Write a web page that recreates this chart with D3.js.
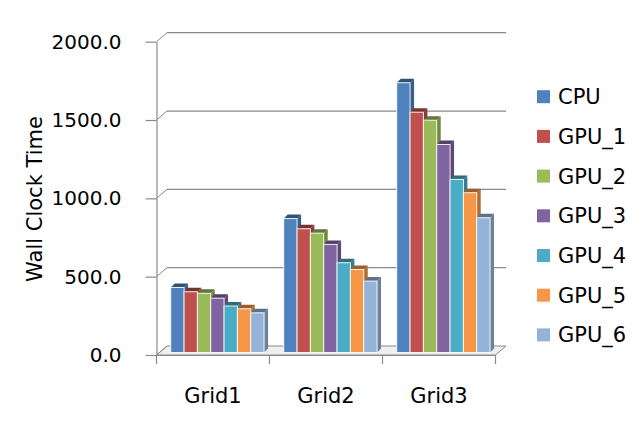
<!DOCTYPE html>
<html>
<head>
<meta charset="utf-8">
<script src="https://cdn.jsdelivr.net/npm/d3@7"></script>
<style>
  html, body { margin: 0; padding: 0; background: #ffffff; }
  svg { display: block; }
  text { font-family: "DejaVu Sans", sans-serif; fill: #000; }
</style>
</head>
<body>
<svg id="chart" width="642" height="428"></svg>
<script>
// ---- data ----
const categories = ["Grid1", "Grid2", "Grid3"];
const seriesNames = ["CPU", "GPU_1", "GPU_2", "GPU_3", "GPU_4", "GPU_5", "GPU_6"];
const cpu   = [415, 855, 1722];
const gpu_1 = [388, 790, 1534];
const gpu_2 = [378, 762, 1483];
const gpu_3 = [347, 690, 1328];
const gpu_4 = [297, 573, 1105];
const gpu_5 = [279, 530, 1020];
const gpu_6 = [253, 456, 860];
const seriesValues = [cpu, gpu_1, gpu_2, gpu_3, gpu_4, gpu_5, gpu_6];
const colors = ["#4F81BD", "#C0504D", "#9BBB59", "#8064A2", "#4BACC6", "#F79646", "#95B3D7"];
const yTicks = [0, 500, 1000, 1500, 2000];
const yTitle = "Wall Clock Time";

(function () {
// ---- layout ----
const svg = d3.select("#chart");
const plotLeft = 156.5, plotRight = 495.5, plotBottom = 355, plotTop = 41.7;
const wallDx = 10.5, wallDy = -9;       // depth of the 3D box
const barDx = 4.4, barDy = -2.5;        // offset of bar front plane
const depthDx = 4, depthDy = -4;        // bar depth
const gridColor = "#8a8a8a";

const y = d3.scaleLinear().domain([0, 2000]).range([plotBottom, plotTop]);
const x0 = d3.scaleBand().domain(categories).range([plotLeft, plotRight]).padding(0);
const outerPad = 9.83;
const x1 = d3.scaleBand().domain(seriesNames)
  .range([outerPad, x0.bandwidth() - outerPad]).padding(0);

// floor
const floor = [[plotLeft, plotBottom], [plotRight, plotBottom], [plotRight + wallDx, plotBottom + wallDy], [plotLeft + wallDx, plotBottom + wallDy]];
svg.append("polygon")
  .attr("points", floor.map(p => p.join(",")).join(" "))
  .attr("fill", "#efefef").attr("stroke", gridColor).attr("stroke-width", 1);

// back wall gridlines and left wall diagonals
yTicks.forEach(t => {
  if (t > 0) {
    svg.append("line")
      .attr("x1", plotLeft + wallDx).attr("x2", plotRight + wallDx)
      .attr("y1", y(t) + wallDy).attr("y2", y(t) + wallDy)
      .attr("stroke", gridColor).attr("stroke-width", 1.3);
  }
  svg.append("line")
    .attr("x1", plotLeft).attr("y1", y(t))
    .attr("x2", plotLeft + wallDx).attr("y2", y(t) + wallDy)
    .attr("stroke", gridColor).attr("stroke-width", 1);
});

// y axis
const yAxis = d3.axisLeft(y).tickValues(yTicks).tickFormat(d3.format(".1f"))
  .tickSize(11).tickSizeOuter(0).tickPadding(24);
const gy = svg.append("g").attr("transform", `translate(${plotLeft},0)`).call(yAxis);
gy.selectAll("path, line").attr("stroke", gridColor).attr("stroke-width", 1.2);
gy.selectAll("text").style("font-size", "20px").style("font-family", "DejaVu Sans, sans-serif").attr("fill", "#000");

// x axis
const xAxis = d3.axisBottom(x0).tickSize(0).tickSizeOuter(0).tickPadding(33);
const gx = svg.append("g").attr("transform", `translate(0,${plotBottom})`).call(xAxis);
gx.selectAll("path").attr("stroke", gridColor).attr("stroke-width", 1.2);
gx.selectAll("text").style("font-size", "21px").style("font-family", "DejaVu Sans, sans-serif").attr("fill", "#000");
// boundary ticks
const bounds = categories.map(c => x0(c)).concat([x0(categories[categories.length - 1]) + x0.bandwidth()]);
svg.selectAll(".xtick").data(bounds).enter().append("line")
  .attr("x1", d => d).attr("x2", d => d)
  .attr("y1", plotBottom).attr("y2", plotBottom + 9)
  .attr("stroke", gridColor).attr("stroke-width", 1.2);

// bars (drawn left to right so fronts cover neighbours' sides)
const bw = x1.bandwidth();
const barsG = svg.append("g");
categories.forEach((cat, ci) => {
  seriesNames.forEach((s, si) => {
    const v = seriesValues[si][ci];
    const L = x0(cat) + x1(s) + barDx;
    const R = L + bw;
    const T = y(v) + barDy;
    const B = y(0) + barDy;
    const base = d3.color(colors[si]);
    barsG.append("polygon")
      .attr("points", [[R, T], [R + depthDx, T + depthDy], [R + depthDx, B + depthDy], [R, B]].map(p => p.join(",")).join(" "))
      .attr("fill", base.darker(0.9).formatHex());
    barsG.append("polygon")
      .attr("points", [[L, T], [L + depthDx, T + depthDy], [R + depthDx, T + depthDy], [R, T]].map(p => p.join(",")).join(" "))
      .attr("fill", base.darker(1.3).formatHex());
    barsG.append("rect")
      .attr("x", L).attr("y", T).attr("width", bw).attr("height", B - T)
      .attr("fill", colors[si])
      .attr("stroke", "#ffffff").attr("stroke-opacity", 0.85).attr("stroke-width", 1);
  });
});

// y title
svg.append("text")
  .attr("transform", "translate(42,199) rotate(-90)")
  .attr("text-anchor", "middle")
  .style("font-size", "21px")
  .text(yTitle);

// legend
const legend = svg.append("g");
seriesNames.forEach((s, i) => {
  const cy = 96.7 + i * 39.7;
  legend.append("rect").attr("x", 537).attr("y", cy - 6.5).attr("width", 13).attr("height", 13).attr("fill", colors[i]);
  legend.append("text").attr("x", 558).attr("y", cy).attr("dy", "0.36em")
    .style("font-size", "21px").text(s);
});
})();
</script>
</body>
</html>
